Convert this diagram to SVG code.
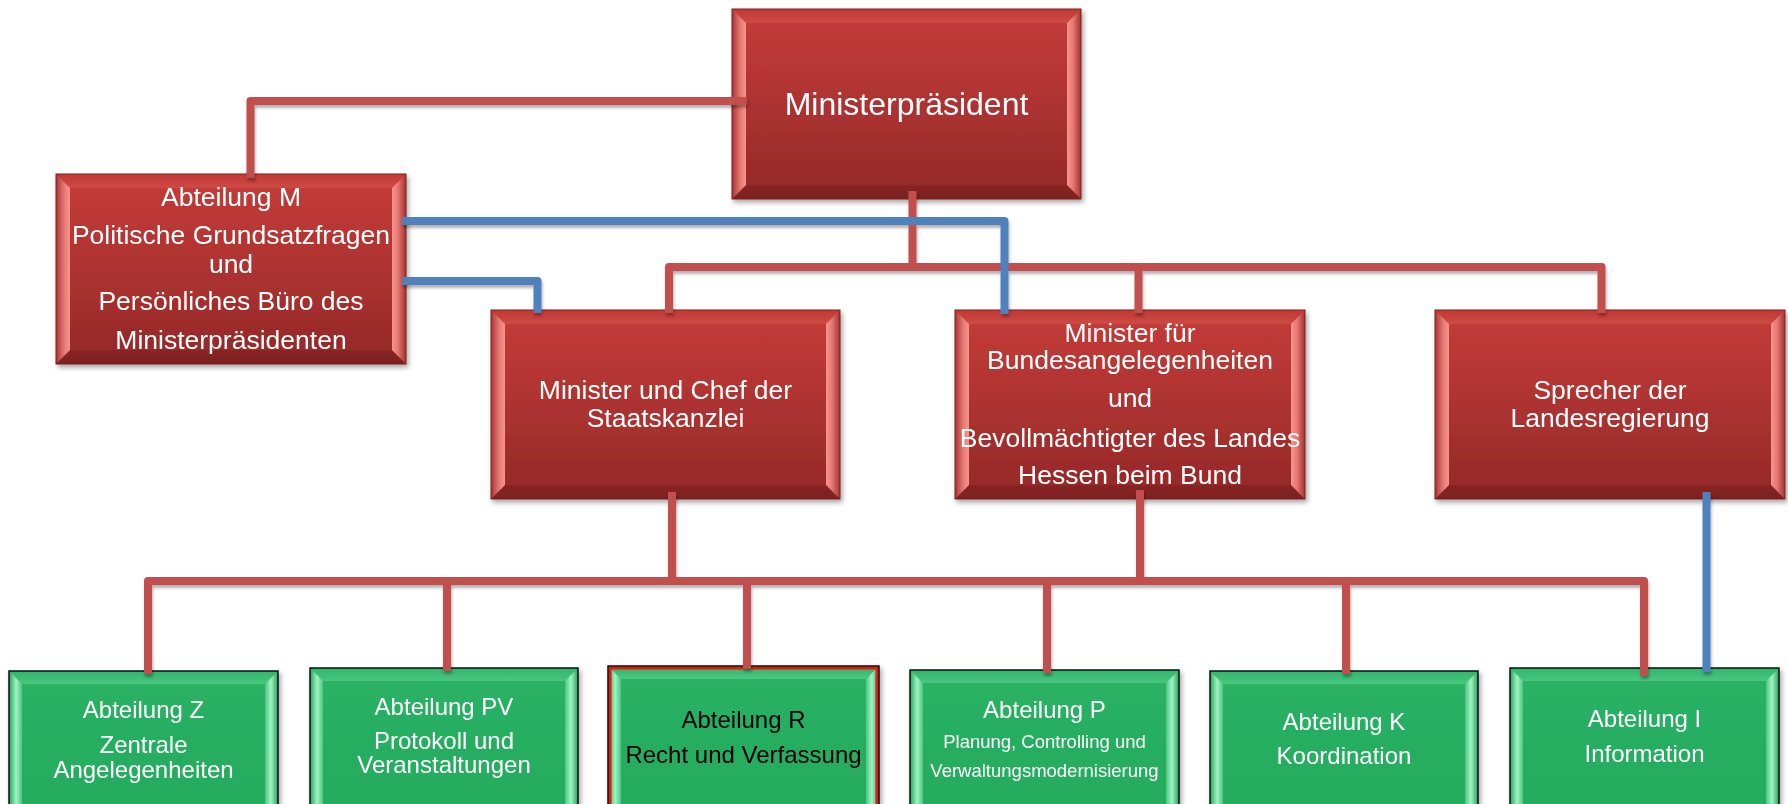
<svg xmlns="http://www.w3.org/2000/svg" width="1788" height="804" viewBox="0 0 1788 804">
<defs>
<linearGradient id="rFace" x1="0" y1="0" x2="0" y2="1">
<stop offset="0" stop-color="#c53c39"/><stop offset="0.5" stop-color="#ad3331"/><stop offset="1" stop-color="#932828"/>
</linearGradient>
<linearGradient id="rLeft" x1="0" y1="0" x2="1" y2="0">
<stop offset="0" stop-color="#a93432"/><stop offset="0.6" stop-color="#e77a74"/><stop offset="1" stop-color="#f7958e"/>
</linearGradient>
<linearGradient id="rRight" x1="0" y1="0" x2="1" y2="0">
<stop offset="0" stop-color="#f7958e"/><stop offset="0.4" stop-color="#e77a74"/><stop offset="1" stop-color="#a53230"/>
</linearGradient>
<linearGradient id="rTop" x1="0" y1="0" x2="0" y2="1">
<stop offset="0" stop-color="#c03935"/><stop offset="1" stop-color="#cd4a45"/>
</linearGradient>
<linearGradient id="rBot" x1="0" y1="0" x2="0" y2="1">
<stop offset="0" stop-color="#8a2524"/><stop offset="1" stop-color="#7a1f1f"/>
</linearGradient>
<linearGradient id="gFace" x1="0" y1="0" x2="0" y2="1">
<stop offset="0" stop-color="#2ab265"/><stop offset="1" stop-color="#24aa5d"/>
</linearGradient>
<linearGradient id="gLeft" x1="0" y1="0" x2="1" y2="0">
<stop offset="0" stop-color="#25a35b"/><stop offset="0.55" stop-color="#9ff3c3"/><stop offset="1" stop-color="#4cc683"/>
</linearGradient>
<linearGradient id="gRight" x1="0" y1="0" x2="1" y2="0">
<stop offset="0" stop-color="#4cc683"/><stop offset="0.45" stop-color="#9ff3c3"/><stop offset="1" stop-color="#25a35b"/>
</linearGradient>
<linearGradient id="gTop" x1="0" y1="0" x2="0" y2="1">
<stop offset="0" stop-color="#2fb56a"/><stop offset="1" stop-color="#4cc683"/>
</linearGradient>
<filter id="shadow" x="-10%" y="-10%" width="120%" height="130%">
<feDropShadow dx="2" dy="3" stdDeviation="2.5" flood-color="#000" flood-opacity="0.35"/>
</filter>
<filter id="lshadow" x="-5%" y="-5%" width="110%" height="110%">
<feDropShadow dx="1" dy="3" stdDeviation="1.5" flood-color="#000" flood-opacity="0.3"/>
</filter>
</defs>
<style>
.rf{fill:url(#rFace)}
.rl{fill:url(#rLeft)}
.rr{fill:url(#rRight)}
.rt{fill:url(#rTop)}
.rb{fill:url(#rBot)}
.rbd{fill:none;stroke:#7c2120;stroke-width:1}
.gf{fill:url(#gFace)}
.gl{fill:url(#gLeft)}
.gr{fill:url(#gRight)}
.gt{fill:url(#gTop)}
.gb{fill:#1f9852}
.gbd{fill:none;stroke:#111;stroke-width:1.5}
.node{filter:url(#shadow)}
text{font-family:"Liberation Sans",Arial,sans-serif;text-anchor:middle;fill:#fff}
.t32{font-size:32px}
.t26{font-size:26.5px}
.t24{font-size:24px}
.t18{font-size:18.5px}
.dark{fill:#000}
.red{fill:none;stroke:#c0504d;stroke-width:8;stroke-linejoin:round}
.blue{fill:none;stroke:#4f81bd;stroke-width:8;stroke-linejoin:round}
</style>

<g id="node-ministerpraesident" class="node">
<rect class="rf" x="732" y="9" width="349" height="190"/>
<path class="rt" d="M732,9 L1081,9 L1067,23 L746,23 Z"/>
<path class="rb" d="M732,199 L1081,199 L1067,185 L746,185 Z"/>
<path class="rl" d="M732,9 L746,23 L746,185 L732,199 Z"/>
<path class="rr" d="M1081,9 L1067,23 L1067,185 L1081,199 Z"/>
<rect class="rbd" x="732" y="9" width="349" height="190"/>
<text class="t32" x="906.5" y="115">Ministerpräsident</text>
</g>

<g id="node-abteilung-m" class="node">
<rect class="rf" x="56" y="174" width="350" height="190"/>
<path class="rt" d="M56,174 L406,174 L392,188 L70,188 Z"/>
<path class="rb" d="M56,364 L406,364 L392,350 L70,350 Z"/>
<path class="rl" d="M56,174 L70,188 L70,350 L56,364 Z"/>
<path class="rr" d="M406,174 L392,188 L392,350 L406,364 Z"/>
<rect class="rbd" x="56" y="174" width="350" height="190"/>
<text class="t26" x="231" y="206">Abteilung M</text>
<text class="t26" x="231" y="243.5">Politische Grundsatzfragen</text>
<text class="t26" x="231" y="273">und</text>
<text class="t26" x="231" y="310">Persönliches Büro des</text>
<text class="t26" x="231" y="349">Ministerpräsidenten</text>
</g>

<g id="node-minister-chef" class="node">
<rect class="rf" x="491" y="310" width="349" height="189"/>
<path class="rt" d="M491,310 L840,310 L826,324 L505,324 Z"/>
<path class="rb" d="M491,499 L840,499 L826,485 L505,485 Z"/>
<path class="rl" d="M491,310 L505,324 L505,485 L491,499 Z"/>
<path class="rr" d="M840,310 L826,324 L826,485 L840,499 Z"/>
<rect class="rbd" x="491" y="310" width="349" height="189"/>
<text class="t26" x="665.5" y="399">Minister und Chef der</text>
<text class="t26" x="665.5" y="427">Staatskanzlei</text>
</g>

<g id="node-minister-bund" class="node">
<rect class="rf" x="955" y="310" width="350" height="189"/>
<path class="rt" d="M955,310 L1305,310 L1291,324 L969,324 Z"/>
<path class="rb" d="M955,499 L1305,499 L1291,485 L969,485 Z"/>
<path class="rl" d="M955,310 L969,324 L969,485 L955,499 Z"/>
<path class="rr" d="M1305,310 L1291,324 L1291,485 L1305,499 Z"/>
<rect class="rbd" x="955" y="310" width="350" height="189"/>
<text class="t26" x="1130" y="342">Minister für</text>
<text class="t26" x="1130" y="369">Bundesangelegenheiten</text>
<text class="t26" x="1130" y="407">und</text>
<text class="t26" x="1130" y="447">Bevollmächtigter des Landes</text>
<text class="t26" x="1130" y="484">Hessen beim Bund</text>
</g>

<g id="node-sprecher" class="node">
<rect class="rf" x="1435" y="310" width="350" height="189"/>
<path class="rt" d="M1435,310 L1785,310 L1771,324 L1449,324 Z"/>
<path class="rb" d="M1435,499 L1785,499 L1771,485 L1449,485 Z"/>
<path class="rl" d="M1435,310 L1449,324 L1449,485 L1435,499 Z"/>
<path class="rr" d="M1785,310 L1771,324 L1771,485 L1785,499 Z"/>
<rect class="rbd" x="1435" y="310" width="350" height="189"/>
<text class="t26" x="1610" y="399">Sprecher der</text>
<text class="t26" x="1610" y="427">Landesregierung</text>
</g>

<g id="node-abteilung-z" class="node">
<rect class="gf" x="9" y="671" width="269" height="149"/>
<path class="gt" d="M9,671 L278,671 L265,684 L22,684 Z"/>
<path class="gb" d="M9,820 L278,820 L265,807 L22,807 Z"/>
<path class="gl" d="M9,671 L22,684 L22,807 L9,820 Z"/>
<path class="gr" d="M278,671 L265,684 L265,807 L278,820 Z"/>
<rect class="gbd" x="9" y="671" width="269" height="149"/>
<text class="t24" x="143.5" y="718">Abteilung Z</text>
<text class="t24" x="143.5" y="753">Zentrale</text>
<text class="t24" x="143.5" y="778">Angelegenheiten</text>
</g>

<g id="node-abteilung-pv" class="node">
<rect class="gf" x="310" y="668" width="268" height="152"/>
<path class="gt" d="M310,668 L578,668 L565,681 L323,681 Z"/>
<path class="gb" d="M310,820 L578,820 L565,807 L323,807 Z"/>
<path class="gl" d="M310,668 L323,681 L323,807 L310,820 Z"/>
<path class="gr" d="M578,668 L565,681 L565,807 L578,820 Z"/>
<rect class="gbd" x="310" y="668" width="268" height="152"/>
<text class="t24" x="444" y="715">Abteilung PV</text>
<text class="t24" x="444" y="749">Protokoll und</text>
<text class="t24" x="444" y="773">Veranstaltungen</text>
</g>

<g id="node-abteilung-r" class="node">
<rect class="gf" x="608" y="666" width="271" height="154"/>
<path class="gt" d="M608,666 L879,666 L866,679 L621,679 Z"/>
<path class="gb" d="M608,820 L879,820 L866,807 L621,807 Z"/>
<path class="gl" d="M608,666 L621,679 L621,807 L608,820 Z"/>
<path class="gr" d="M879,666 L866,679 L866,807 L879,820 Z"/>
<rect x="610" y="668" width="267" height="150" fill="none" stroke="#e8140f" stroke-width="3"/>
<rect class="gbd" x="608" y="666" width="271" height="154" stroke-width="1"/>
<text class="t24 dark" x="743.5" y="728">Abteilung R</text>
<text class="t24 dark" x="743.5" y="763">Recht und Verfassung</text>
</g>

<g id="node-abteilung-p" class="node">
<rect class="gf" x="910" y="670" width="269" height="150"/>
<path class="gt" d="M910,670 L1179,670 L1166,683 L923,683 Z"/>
<path class="gb" d="M910,820 L1179,820 L1166,807 L923,807 Z"/>
<path class="gl" d="M910,670 L923,683 L923,807 L910,820 Z"/>
<path class="gr" d="M1179,670 L1166,683 L1166,807 L1179,820 Z"/>
<rect class="gbd" x="910" y="670" width="269" height="150"/>
<text class="t24" x="1044.5" y="718">Abteilung P</text>
<text class="t18" x="1044.5" y="748">Planung, Controlling und</text>
<text class="t18" x="1044.5" y="777">Verwaltungsmodernisierung</text>
</g>

<g id="node-abteilung-k" class="node">
<rect class="gf" x="1210" y="671" width="268" height="149"/>
<path class="gt" d="M1210,671 L1478,671 L1465,684 L1223,684 Z"/>
<path class="gb" d="M1210,820 L1478,820 L1465,807 L1223,807 Z"/>
<path class="gl" d="M1210,671 L1223,684 L1223,807 L1210,820 Z"/>
<path class="gr" d="M1478,671 L1465,684 L1465,807 L1478,820 Z"/>
<rect class="gbd" x="1210" y="671" width="268" height="149"/>
<text class="t24" x="1344" y="730">Abteilung K</text>
<text class="t24" x="1344" y="764">Koordination</text>
</g>

<g id="node-abteilung-i" class="node">
<rect class="gf" x="1510" y="668" width="269" height="152"/>
<path class="gt" d="M1510,668 L1779,668 L1766,681 L1523,681 Z"/>
<path class="gb" d="M1510,820 L1779,820 L1766,807 L1523,807 Z"/>
<path class="gl" d="M1510,668 L1523,681 L1523,807 L1510,820 Z"/>
<path class="gr" d="M1779,668 L1766,681 L1766,807 L1779,820 Z"/>
<rect class="gbd" x="1510" y="668" width="269" height="152"/>
<text class="t24" x="1644.5" y="727">Abteilung I</text>
<text class="t24" x="1644.5" y="762">Information</text>
</g>

<g id="connectors" filter="url(#lshadow)">
<path class="red" d="M747,101 H250.5 V178"/>
<path class="red" d="M912.5,191 V267"/>
<path class="red" d="M669,313 V267 H1601.5 V313"/>
<path class="red" d="M1138.5,267 V313"/>
<path class="red" d="M672,492 V581"/>
<path class="red" d="M1140,490 V581"/>
<path class="red" d="M148,674 V581 H1644 V676"/>
<path class="red" d="M447,581 V671"/>
<path class="red" d="M747,581 V669"/>
<path class="red" d="M1047,581 V673"/>
<path class="red" d="M1346,581 V674"/>
<path class="blue" d="M402,221 H1004.5 V314"/>
<path class="blue" d="M402,281 H537.5 V313"/>
<path class="blue" d="M1706.5,492 V672"/>
</g>
</svg>
